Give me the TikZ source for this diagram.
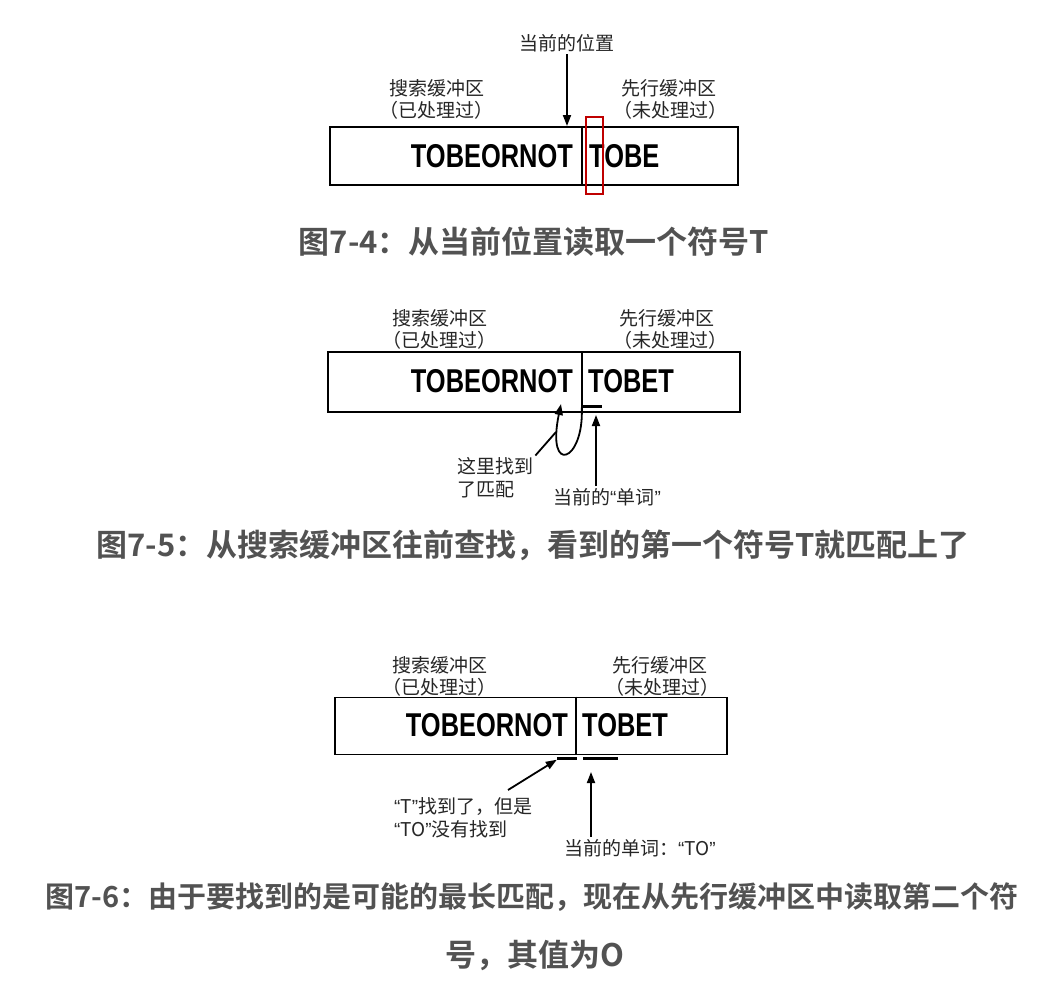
\documentclass[tikz,border=0pt]{standalone}
\usepackage{fontspec}
\usepackage{graphicx}
\setmainfont{Noto Sans CJK SC}[BoldFont={Noto Sans CJK SC Bold}]
\newfontfamily\wordfont{Liberation Sans}
\usetikzlibrary{arrows.meta, positioning}
\newcommand{\wrd}[1]{\scalebox{0.77}[1]{#1}}
\newcommand{\qo}{{\wordfont “}}
\newcommand{\qc}{{\wordfont ”}}

\begin{document}
\begin{tikzpicture}[
        x=1pt, y=-1pt,
        buf/.style={draw, line width=1.6pt, inner sep=0pt},
        hl/.style={draw=red!75!black, line width=1.3pt, inner sep=0pt},
        bar/.style={fill=black, inner sep=0pt, minimum height=3pt},
        lbl/.style={font=\fontsize{19}{23}\selectfont, text=black!85, inner sep=2pt},
        word/.style={font=\wordfont\bfseries\fontsize{33}{36}\selectfont, inner sep=0pt},
        captxt/.style={font=\bfseries\fontsize{31}{36}\selectfont, text=black!68},
        arr/.style={line width=1.8pt, -{Triangle[length=11pt,width=8pt]}}
    ]
    \useasboundingbox[fill=white] (0,0) rectangle (1044,982);

    % 7-4
    \node[buf, minimum width=408pt, minimum height=58pt] (box1) at (534,156) {};
    \coordinate (div1) at (582,0);
    \draw[line width=1.4pt] (box1.north -| div1) -- (box1.south -| div1);
    \node[word, anchor=base east] (past1) at (573,167) {\wrd{TOBEORNOT}};
    \node[word, anchor=base west] (next1) at (589,167) {\wrd{TOBE}};
    \node[hl, minimum width=17pt, minimum height=77pt] (sym1) at (594.5,155.5) {};
    \node[lbl] (sb1a) at (437,88) {搜索缓冲区};
    \node[lbl] (sb1b) at (436,110) {（已处理过）};
    \node[lbl] (la1a) at (669,88) {先行缓冲区};
    \node[lbl] (la1b) at (670,110) {（未处理过）};
    \node[lbl] (pos1) at (567,43) {当前的位置};
    \coordinate (tip1) at (567,126);
    \draw[arr] (pos1) -- (tip1);
    \node[captxt] (cap1) at (534,242) {图7-4：从当前位置读取一个符号T};

    % 7-5
    \node[buf, minimum width=412pt, minimum height=60pt] (box2) at (534,382) {};
    \coordinate (div2) at (582,0);
    \draw[line width=1.4pt] (box2.north -| div2) -- (box2.south -| div2);
    \node[word, anchor=base east] (past2) at (573,392) {\wrd{TOBEORNOT}};
    \node[word, anchor=base west] (next2) at (588,392) {\wrd{TOBET}};
    \node[lbl] (sb2a) at (440,318) {搜索缓冲区};
    \node[lbl] (sb2b) at (439,340) {（已处理过）};
    \node[lbl] (la2a) at (667,318) {先行缓冲区};
    \node[lbl] (la2b) at (670,340) {（未处理过）};
    \node[bar, minimum width=20pt] (cur2) at (592,406) {};
    \coordinate (hit2) at (561,404);
    \draw[arr] (cur2.south west) .. controls (584,462) and (546,476) .. (hit2);
    \node[lbl, align=left, anchor=west] (found2) at (455,478) {这里找到\\了匹配};
    \coordinate (bend2) at (556,432);
    \draw[line width=1.8pt] (found2.north east) -- (bend2);
    \node[lbl] (word2) at (607,497) {当前的\qo 单词\qc};
    \coordinate (tip2) at (596,415);
    \draw[arr] (word2.north -| tip2) -- (tip2);
    \node[captxt] (cap2) at (533,545) {图7-5：从搜索缓冲区往前查找，看到的第一个符号T就匹配上了};

    % 7-6
    \node[buf, minimum width=392pt, minimum height=57pt] (box3) at (531,726) {};
    \coordinate (div3) at (576,0);
    \draw[line width=1.4pt] (box3.north -| div3) -- (box3.south -| div3);
    \node[word, anchor=base east] (past3) at (568,736) {\wrd{TOBEORNOT}};
    \node[word, anchor=base west] (next3) at (582,736) {\wrd{TOBET}};
    \node[lbl] (sb3a) at (440,665) {搜索缓冲区};
    \node[lbl] (sb3b) at (439,687) {（已处理过）};
    \node[lbl] (la3a) at (660,665) {先行缓冲区};
    \node[lbl] (la3b) at (662,687) {（未处理过）};
    \node[bar, minimum width=20pt] (old3) at (567,758) {};
    \node[bar, minimum width=35pt] (cur3) at (600.5,758) {};
    \node[lbl, align=left, anchor=west] (found3) at (392,818) {\qo T\qc 找到了，但是\\\qo TO\qc 没有找到};
    \coordinate (tail3) at (508,790);
    \draw[arr] (tail3) -- (old3.south west);
    \node[lbl] (word3) at (640,848) {当前的单词：\qo TO\qc};
    \coordinate (tip3) at (591,772);
    \draw[arr] (word3.north -| tip3) -- (tip3);
    \node[captxt, font=\bfseries\fontsize{29}{36}\selectfont] (cap3a) at (532,897) {图7-6：由于要找到的是可能的最长匹配，现在从先行缓冲区中读取第二个符};
    \node[captxt] (cap3b) at (535,955) {号，其值为O};
\end{tikzpicture}
\end{document}
